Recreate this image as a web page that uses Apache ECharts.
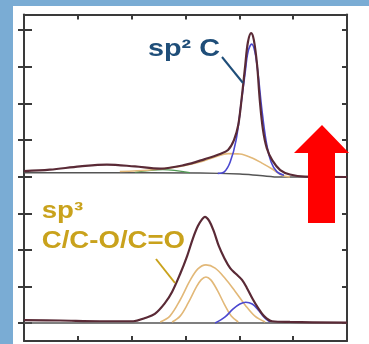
<!DOCTYPE html>
<html>
<head>
<meta charset="utf-8">
<script src="https://cdn.jsdelivr.net/npm/echarts@6/dist/echarts.min.js"></script>
<style>
  html, body { margin: 0; padding: 0; width: 369px; height: 344px; overflow: hidden; background: #7aacd4; }
  #spectra { position: absolute; left: 13px; top: 6px; width: 356px; height: 338px; background: #ffffff; }
</style>
</head>
<body>
<div id="spectra"></div>
<script>
// axis ticks (no labels in the picture)
var xTicks = [0, 1, 2, 3, 4, 5, 6];
var yTicks = [0, 1, 2, 3, 4, 5, 6, 7, 8];

// upper spectrum (sp2 dominated)
var topData = [[0,4.15],[0.48,4.19],[1.04,4.28],[1.54,4.33],[2.06,4.28],[2.53,4.22],[2.99,4.32],[3.36,4.48],[3.64,4.62],[3.79,4.73],[3.90,5.00],[3.98,5.41],[4.05,6.23],[4.11,7.05],[4.16,7.68],[4.22,7.92],[4.27,7.73],[4.33,7.05],[4.38,6.09],[4.44,5.27],[4.51,4.78],[4.61,4.45],[4.76,4.18],[4.94,4.06],[5.22,4.00],[6,3.99]];
var topSp2 = [[3.60,4.09],[3.72,4.13],[3.83,4.40],[3.94,5.00],[4.03,5.96],[4.11,6.86],[4.16,7.40],[4.23,7.62],[4.29,7.40],[4.35,6.78],[4.42,5.82],[4.50,4.95],[4.59,4.40],[4.70,4.13],[4.83,4.04]];
var topSp3 = [[1.78,4.14],[2.34,4.18],[2.90,4.28],[3.27,4.40],[3.55,4.54],[3.79,4.63],[4.01,4.62],[4.24,4.51],[4.42,4.37],[4.61,4.21],[4.79,4.04],[4.94,3.99]];
var topMinor = [[2.06,4.12],[2.58,4.19],[3.08,4.11]];
var topBase = [[0,4.11],[1.41,4.11],[3.27,4.10],[4.01,4.07],[4.38,4.03],[4.76,3.99],[6,3.99]];

// lower spectrum (sp3 dominated)
var botData = [[0,0.08],[0.67,0.07],[1.41,0.05],[2.03,0.05],[2.25,0.14],[2.43,0.25],[2.62,0.55],[2.75,0.85],[2.90,1.34],[3.03,1.83],[3.14,2.32],[3.23,2.65],[3.31,2.84],[3.36,2.90],[3.44,2.79],[3.53,2.49],[3.62,2.10],[3.72,1.78],[3.83,1.50],[3.94,1.34],[4.05,1.18],[4.14,0.96],[4.24,0.68],[4.35,0.41],[4.46,0.19],[4.61,0.05],[4.94,0.03],[6,0.01]];
var botBroad = [[2.53,0.03],[2.71,0.19],[2.90,0.63],[3.08,1.15],[3.23,1.48],[3.38,1.59],[3.55,1.50],[3.73,1.23],[3.92,0.87],[4.11,0.49],[4.29,0.19],[4.48,0.03]];
var botNarrow = [[2.75,0.03],[2.90,0.19],[3.05,0.55],[3.20,0.98],[3.29,1.18],[3.38,1.26],[3.47,1.18],[3.59,0.90],[3.72,0.52],[3.85,0.19],[3.98,0.03]];
var botSp2 = [[3.55,0],[3.73,0.16],[3.88,0.38],[4.01,0.52],[4.12,0.57],[4.24,0.52],[4.35,0.36],[4.46,0.16],[4.57,0.03]];
var botBase = [[0,0],[6,0]];

var frameColor = '#3a3a3a';
var blueText = '#1f4e79';
var goldText = '#c9a21c';

function line(data, color, width, z) {
  return {
    type: 'line',
    data: data,
    smooth: 0.35,
    showSymbol: false,
    silent: true,
    z: z,
    lineStyle: { color: color, width: width }
  };
}

function frameAxis(extra) {
  var ax = {
    type: 'value',
    axisLine: { show: true, onZero: false, lineStyle: { color: frameColor, width: 2 } },
    axisTick: { show: true, inside: true, length: 5, lineStyle: { color: frameColor, width: 2 } },
    axisLabel: { show: false },
    splitLine: { show: false }
  };
  for (var k in extra) ax[k] = extra[k];
  return ax;
}

var myChart = echarts.init(document.getElementById('spectra'));
myChart.setOption({
  animation: false,
  grid: { left: 11, top: 8.5, right: 22, bottom: 3, outerBoundsMode: 'none' },
  xAxis: [
    frameAxis({ position: 'bottom', min: 0, max: 6, interval: 1 }),
    frameAxis({ position: 'top', min: 0, max: 6, interval: 1 })
  ],
  yAxis: [
    frameAxis({
      position: 'left', min: -0.49, max: 8.43,
      axisTick: { show: true, inside: true, length: 8, customValues: yTicks, lineStyle: { color: frameColor, width: 2 } }
    }),
    frameAxis({
      position: 'right', min: -0.49, max: 8.43,
      axisTick: { show: true, inside: true, length: 5, customValues: yTicks, lineStyle: { color: frameColor, width: 2 } }
    }),
    frameAxis({
      // outer half of the left ticks
      position: 'left', min: -0.49, max: 8.43,
      axisLine: { show: false, onZero: false },
      axisTick: { show: true, inside: false, length: 6, customValues: yTicks, lineStyle: { color: frameColor, width: 2 } }
    })
  ],
  series: [
    line(topBase, '#555555', 1.5, 2),
    line(botBase, '#555555', 1.5, 2),
    line(topMinor, '#4f9a52', 1.2, 3),
    line(topSp3, '#e2b878', 1.6, 3),
    line(topSp2, '#4b48d0', 1.6, 4),
    line(botBroad, '#e2b878', 1.6, 3),
    line(botNarrow, '#e2b878', 1.6, 3),
    line(botSp2, '#4b48d0', 1.6, 4),
    line(topData, '#5a2a36', 2.2, 5),
    line(botData, '#5a2a36', 2.2, 5)
  ],
  graphic: [
    {
      type: 'text', x: 135, y: 43, scaleX: 1.2, z: 10,
      style: { text: 'sp² C', fill: blueText, font: 'bold 24px "Liberation Sans", Arial, sans-serif', align: 'left', verticalAlign: 'middle' }
    },
    {
      type: 'line', z: 10,
      shape: { x1: 209, y1: 51, x2: 230, y2: 77 },
      style: { stroke: blueText, lineWidth: 2 }
    },
    {
      type: 'text', x: 28.7, y: 206, scaleX: 1.2, z: 10,
      style: { text: 'sp³', fill: goldText, font: 'bold 23px "Liberation Sans", Arial, sans-serif', align: 'left', verticalAlign: 'middle' }
    },
    {
      type: 'text', x: 28.7, y: 235.5, scaleX: 1.2, z: 10,
      style: { text: 'C/C-O/C=O', fill: goldText, font: 'bold 23px "Liberation Sans", Arial, sans-serif', align: 'left', verticalAlign: 'middle' }
    },
    {
      type: 'line', z: 10,
      shape: { x1: 143, y1: 253, x2: 162, y2: 277 },
      style: { stroke: goldText, lineWidth: 2 }
    },
    {
      // red arrow pointing up
      type: 'polygon', z: 20,
      shape: { points: [[309, 119], [336, 147], [322, 147], [322, 217], [295, 217], [295, 147], [281, 147]] },
      style: { fill: '#ff0000' }
    }
  ]
});
</script>
</body>
</html>
